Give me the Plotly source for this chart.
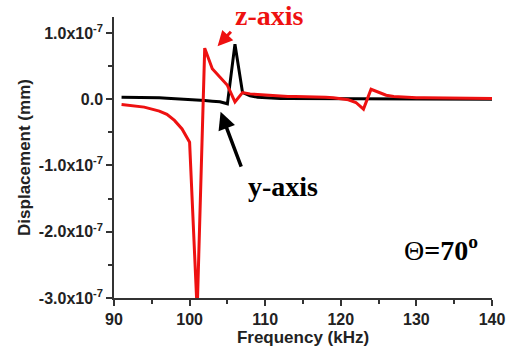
import plotly.graph_objects as go

# Frequency sweep (kHz), 1 kHz step
freq_khz = list(range(91, 141))

# Displacement along z (mm, units of 1e-7)
z_disp = [-0.08, -0.09, -0.10, -0.12, -0.15, -0.18, -0.23, -0.32, -0.45, -0.65,
          -3.20, 0.77, 0.46, 0.33, 0.21, -0.04, 0.10, 0.08, 0.07, 0.06,
          0.05, 0.05, 0.04, 0.04, 0.04, 0.03, 0.03, 0.03, 0.02, 0.01,
          -0.01, -0.05, -0.15, 0.15, 0.10, 0.06, 0.04, 0.03, 0.03, 0.02,
          0.02, 0.02, 0.02, 0.01, 0.01, 0.01, 0.01, 0.01, 0.01, 0.01]

# Displacement along y (mm, units of 1e-7)
y_disp = [0.03, 0.03, 0.03, 0.025, 0.02, 0.02, 0.015, 0.01, 0.005, 0.0,
          -0.01, -0.02, -0.03, -0.04, -0.07, 0.83, 0.10, 0.05, 0.03, 0.02,
          0.02, 0.01, 0.01, 0.01, 0.01, 0.01, 0.0, 0.0, 0.0, 0.0,
          0.0, 0.0, 0.0, 0.0, 0.0, 0.0, 0.0, 0.0, 0.0, 0.0,
          0.0, 0.0, 0.0, 0.0, 0.0, 0.0, 0.0, 0.0, 0.0, 0.0]

scale = 1e-7
y_tick_vals = [1.0, 0.0, -1.0, -2.0, -3.0]
y_tick_text = ["1.0x10<sup>-7</sup>", "0.0", "-1.0x10<sup>-7</sup>",
               "-2.0x10<sup>-7</sup>", "-3.0x10<sup>-7</sup>"]

fig = go.Figure()
fig.add_trace(go.Scatter(x=freq_khz, y=[v * scale for v in y_disp], mode="lines",
                         line=dict(color="#000000", width=3), name="y-axis"))
fig.add_trace(go.Scatter(x=freq_khz, y=[v * scale for v in z_disp], mode="lines",
                         line=dict(color="#ee1111", width=3), name="z-axis"))

axis_color = "#333333"
tick_font = dict(family="Liberation Sans, Arial, sans-serif", size=16, color="#222222", weight="bold")
title_font = dict(family="Liberation Sans, Arial, sans-serif", size=17, color="#222222")

fig.update_xaxes(
    range=[90, 140], tickmode="linear", tick0=90, dtick=10,
    ticks="outside", ticklen=6, tickwidth=1.5, tickcolor=axis_color,
    minor=dict(ticks="outside", ticklen=4, tickwidth=1.5, tickcolor=axis_color,
               tick0=90, dtick=5),
    showline=True, linecolor=axis_color, linewidth=1.5, showgrid=False, zeroline=False,
    tickfont=tick_font,
    title=dict(text="<b>Frequency (kHz)</b>", font=title_font, standoff=2),
)
fig.update_yaxes(
    range=[-3.0e-7, 1.24e-7], tickmode="array",
    tickvals=[v * scale for v in y_tick_vals], ticktext=y_tick_text,
    ticks="outside", ticklen=6, tickwidth=1.5, tickcolor=axis_color,
    minor=dict(ticks="outside", ticklen=4, tickwidth=1.5, tickcolor=axis_color,
               tick0=0, dtick=0.5 * scale),
    showline=True, linecolor=axis_color, linewidth=1.5, showgrid=False, zeroline=False,
    tickfont=tick_font,
    title=dict(text="<b>Displacement (mm)</b>", font=title_font, standoff=4),
)

serif = "Liberation Serif, Times New Roman, serif"
annotations = [
    # pointer arrows
    dict(x=103.7, y=0.80e-7, ax=105.65, ay=1.04e-7, axref="x", ayref="y",
         text="", showarrow=True, arrowhead=2, arrowsize=1, arrowwidth=3, arrowcolor="#ee1111"),
    dict(x=104.1, y=-0.19e-7, ax=106.9, ay=-1.04e-7, axref="x", ayref="y",
         text="", showarrow=True, arrowhead=2, arrowsize=1, arrowwidth=3.5, arrowcolor="#000000"),
    # labels
    dict(x=110.6, xref="x", y=1.004, yref="paper", yanchor="middle", text="<b>z-axis</b>",
         showarrow=False, font=dict(family=serif, size=28, color="#ee1111")),
    dict(x=112.4, y=-1.32e-7, text="<b>y-axis</b>", showarrow=False,
         font=dict(family=serif, size=28, color="#000000")),
    dict(x=133.3, y=-2.26e-7, text="\u0398<b>=70<sup>o</sup></b>", showarrow=False,
         font=dict(family=serif, size=28, color="#000000")),
]
fig.update_layout(
    width=517, height=354,
    margin=dict(l=114, r=16, t=17, b=52),
    paper_bgcolor="white", plot_bgcolor="white",
    showlegend=False, annotations=annotations,
)

fig.write_html("out.html")
